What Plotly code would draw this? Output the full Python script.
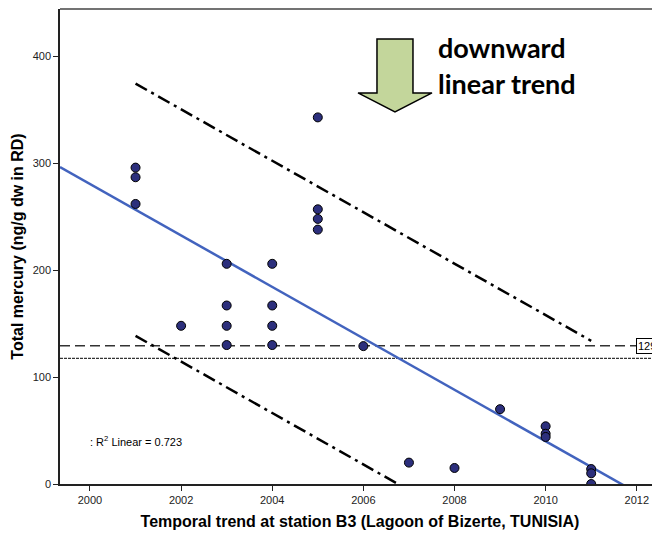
import numpy as np
import plotly.graph_objects as go

# ---- data ----
years = [2001, 2001, 2001,
         2002,
         2003, 2003, 2003, 2003,
         2004, 2004, 2004, 2004,
         2005, 2005, 2005, 2005,
         2006, 2007, 2008, 2009,
         2010, 2010, 2010,
         2011, 2011, 2011]
mercury = [296, 287, 262,
           148,
           206, 167, 148, 130,
           206, 167, 148, 130,
           343, 257, 248, 238,
           129, 20, 15, 70,
           54, 47, 44,
           14, 10, 0]
band_halfwidth = 118          # offset of the dash-dot band lines
band_years = [2001, 2011]      # extent of the dash-dot band lines
ref_dashed = 129.3             # dashed reference line (labelled)
ref_dotted = 117.5             # dotted reference line
r2_text = ": R<sup>2</sup> Linear = 0.723"
x_ticks = [2000, 2002, 2004, 2006, 2008, 2010, 2012]
y_ticks = [0, 100, 200, 300, 400]

x_range = [1999.342, 2012.51]
y_range = [0, 444.4]

# ---- linear fit ----
slope, intercept = np.polyfit(years, mercury, 1)
fit_x = np.array(x_range)
fit_y = intercept + slope * fit_x

band_x = np.array(band_years, dtype=float)
upper_y = intercept + slope * band_x + band_halfwidth
lower_y = intercept + slope * band_x - band_halfwidth
# lower line stops where it reaches zero
if lower_y[-1] < 0:
    band_x_low = np.array([band_x[0], (band_halfwidth - intercept) / slope])
    lower_y_plot = intercept + slope * band_x_low - band_halfwidth
else:
    band_x_low = band_x
    lower_y_plot = lower_y

fig = go.Figure()

fig.add_trace(go.Scatter(x=[x_range[0], x_range[1]], y=[ref_dashed, ref_dashed], mode="lines",
                         line=dict(color="#333333", width=1.5, dash="10px,5px"),
                         hoverinfo="skip", showlegend=False))
fig.add_trace(go.Scatter(x=[x_range[0], x_range[1]], y=[ref_dotted, ref_dotted], mode="lines",
                         line=dict(color="#333333", width=1.2, dash="3px,1px"),
                         hoverinfo="skip", showlegend=False))

fig.add_trace(go.Scatter(x=band_x, y=upper_y, mode="lines",
                         line=dict(color="black", width=2.5, dash="13px,5px,3px,5px"),
                         showlegend=False))
fig.add_trace(go.Scatter(x=band_x_low, y=lower_y_plot, mode="lines",
                         line=dict(color="black", width=2.5, dash="13px,5px,3px,5px"),
                         showlegend=False))

fig.add_trace(go.Scatter(x=fit_x, y=fit_y, mode="lines",
                         line=dict(color="#4263be", width=2.5),
                         showlegend=False))

fig.add_trace(go.Scatter(x=years, y=mercury, mode="markers",
                         marker=dict(size=9, color="#2c2f7c",
                                     line=dict(color="black", width=1)),
                         showlegend=False))

# page has an 8px body margin; figure is offset accordingly
OFF = 8
W, H = 660 - OFF, 539 - 2 * OFF
PL, PR, PT, PB = 60, 660, 9, 484.5   # plot area in page pixels
L, R, T, B = PL - OFF, 0, PT - OFF, (H + OFF) - PB


def px(x):
    return (x - PL) / (PR - PL)


def py(y):
    return (PB - y) / (PB - PT)


arrow_pts = [(377, 39), (413, 39), (413, 93), (432, 93), (395, 112),
             (358, 93), (377, 93)]
path = "M " + " L ".join(f"{px(x):.4f},{py(y):.4f}" for x, y in arrow_pts) + " Z"

shapes = [
    dict(type="path", xref="paper", yref="paper", path=path,
         fillcolor="#c3d69b", line=dict(color="black", width=1.5)),
    dict(type="line", xref="paper", yref="paper", x0=0, x1=1, y0=1, y1=1,
         line=dict(color="#444444", width=1.5)),
]

annotations = [
    dict(x=px(436), y=py(48), xref="paper", yref="paper", text="<b>downward</b>",
         showarrow=False, xanchor="left", yanchor="middle",
         font=dict(family="Lato", size=27, color="black")),
    dict(x=px(436), y=py(84), xref="paper", yref="paper", text="<b>linear trend</b>",
         showarrow=False, xanchor="left", yanchor="middle",
         font=dict(family="Lato", size=27, color="black")),
    dict(x=px(88), y=py(441), xref="paper", yref="paper", text=r2_text,
         showarrow=False, xanchor="left", yanchor="middle",
         font=dict(family="Liberation Sans", size=11, color="black")),
    dict(x=px(636), y=ref_dashed, xref="paper", yref="y", text="129.3",
         showarrow=False, xanchor="left", yanchor="middle",
         bordercolor="black", borderwidth=1, borderpad=1, bgcolor="white",
         font=dict(family="Liberation Sans", size=11, color="black")),
]

fig.update_layout(
    width=W, height=H,
    margin=dict(l=L, r=R, t=T, b=B),
    paper_bgcolor="white", plot_bgcolor="white",
    font=dict(family="Liberation Sans", color="#222222"),
    shapes=shapes, annotations=annotations,
    xaxis=dict(range=x_range, tickvals=x_ticks, showgrid=False, zeroline=False,
               showline=True, linecolor="#222222", linewidth=1.5,
               ticks="outside", ticklen=5, tickcolor="#222222",
               tickfont=dict(size=11, color="#222222"),
               title=dict(text="<b>Temporal trend at station B3 (Lagoon of Bizerte, TUNISIA)</b>",
                          font=dict(size=16, color="black"), standoff=11)),
    yaxis=dict(range=y_range, tickvals=y_ticks, showgrid=False, zeroline=False,
               showline=True, linecolor="#222222", linewidth=1.5,
               ticks="outside", ticklen=5, tickcolor="#222222",
               tickfont=dict(size=11, color="#222222"),
               title=dict(text="<b>Total mercury (ng/g dw in RD)</b>",
                          font=dict(size=16, color="black"), standoff=5)),
)

fig.write_html("out.html")
